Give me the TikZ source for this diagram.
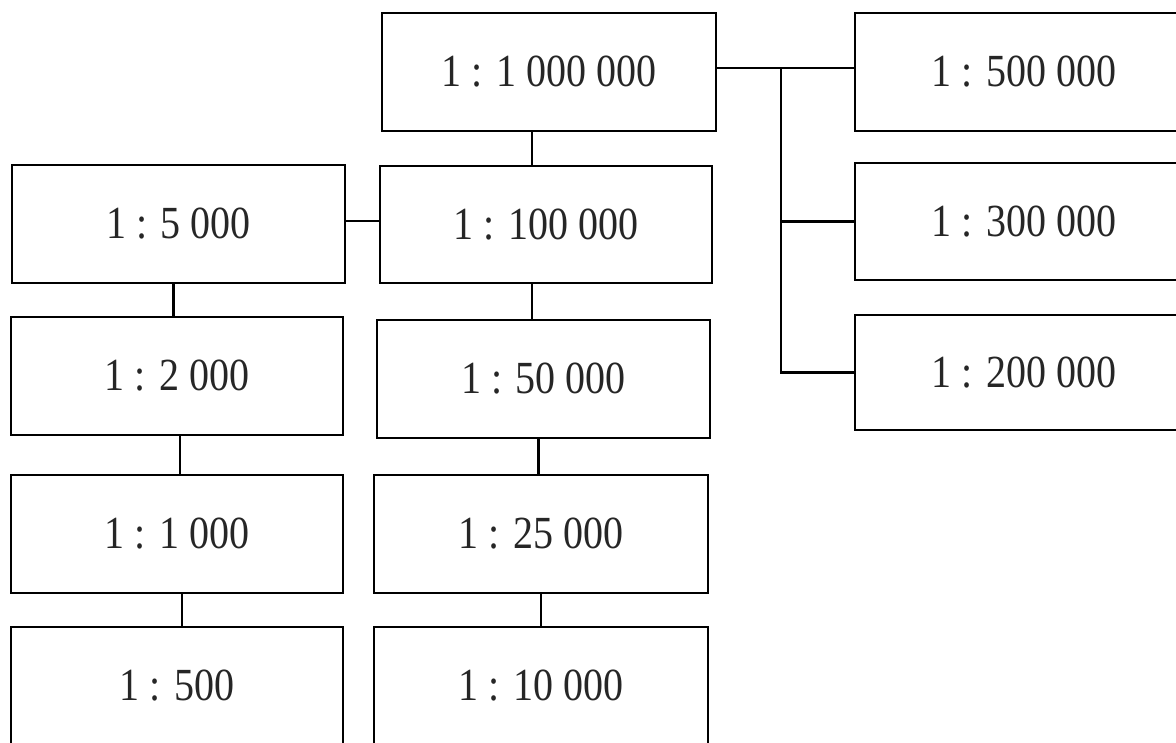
\documentclass[tikz,border=0pt]{standalone}
\usepackage{fontspec}
\setmainfont{Liberation Serif}[FakeStretch=0.87]
\begin{document}
\begin{tikzpicture}[x=1pt,y=-1pt,
  box/.style={draw=black,line width=2.7pt,rectangle,inner sep=0pt,minimum height=118pt,
    font=\fontsize{46}{52}\selectfont,text=black!85},
  link/.style={draw=black,line width=2.5pt}]
\useasboundingbox (0,0) rectangle (1176,743);
\clip (0,0) rectangle (1176,743);
\fill[white] (0,0) rectangle (1176,743);
\node[box,minimum width=334pt] (top)   at (549,72)    {1 : 1 000 000};
\node[box,minimum width=338pt] (r500)  at (1024,72)   {1 : 500 000};
\node[box,minimum width=338pt,minimum height=117pt] (r300)  at (1024,221.5) {1 : 300 000};
\node[box,minimum width=338pt,minimum height=115pt] (r200)  at (1024,372.5) {1 : 200 000};
\node[box,minimum width=333pt] (n5k)   at (178.5,224) {1 : 5 000};
\node[box,minimum width=332pt,minimum height=117pt] (n100k) at (546,224.5) {1 : 100 000};
\node[box,minimum width=332pt] (n2k)   at (177,376)   {1 : 2 000};
\node[box,minimum width=333pt] (n50k)  at (543.5,379) {1 : 50 000};
\node[box,minimum width=332pt] (n1k)   at (177,534)   {1 : 1 000};
\node[box,minimum width=334pt] (n25k)  at (541,534)   {1 : 25 000};
\node[box,minimum width=332pt] (n500)  at (177,686)   {1 : 500};
\node[box,minimum width=334pt] (n10k)  at (541,686)   {1 : 10 000};
% right-hand bus
\coordinate (bus) at (781,68);
\path[link] ([yshift=4pt]top.east) -- ([yshift=4pt]top.east -| r500.west);
\path[link] (bus) -- (bus |- r200.west) -- (r200.west);
\path[link] (bus |- r300.west) -- (r300.west);
% left column
\path[link] ([xshift=-17pt]top.south) -- ([xshift=-17pt]top.south |- n100k.north);
\path[link] ([yshift=3pt]n5k.east) -- ([yshift=3pt]n5k.east -| n100k.west);
\path[link] ([xshift=-5pt]n5k.south) -- ([xshift=-5pt]n5k.south |- n2k.north);
\path[link] ([xshift=3pt]n2k.south) -- ([xshift=3pt]n2k.south |- n1k.north);
\path[link] ([xshift=5pt]n1k.south) -- ([xshift=5pt]n1k.south |- n500.north);
\path[link] ([xshift=-14pt]n100k.south) -- ([xshift=-14pt]n100k.south |- n50k.north);
\path[link] ([xshift=-5pt]n50k.south) -- ([xshift=-5pt]n50k.south |- n25k.north);
\path[link] (n25k.south) -- (n10k.north);
\end{tikzpicture}
\end{document}
